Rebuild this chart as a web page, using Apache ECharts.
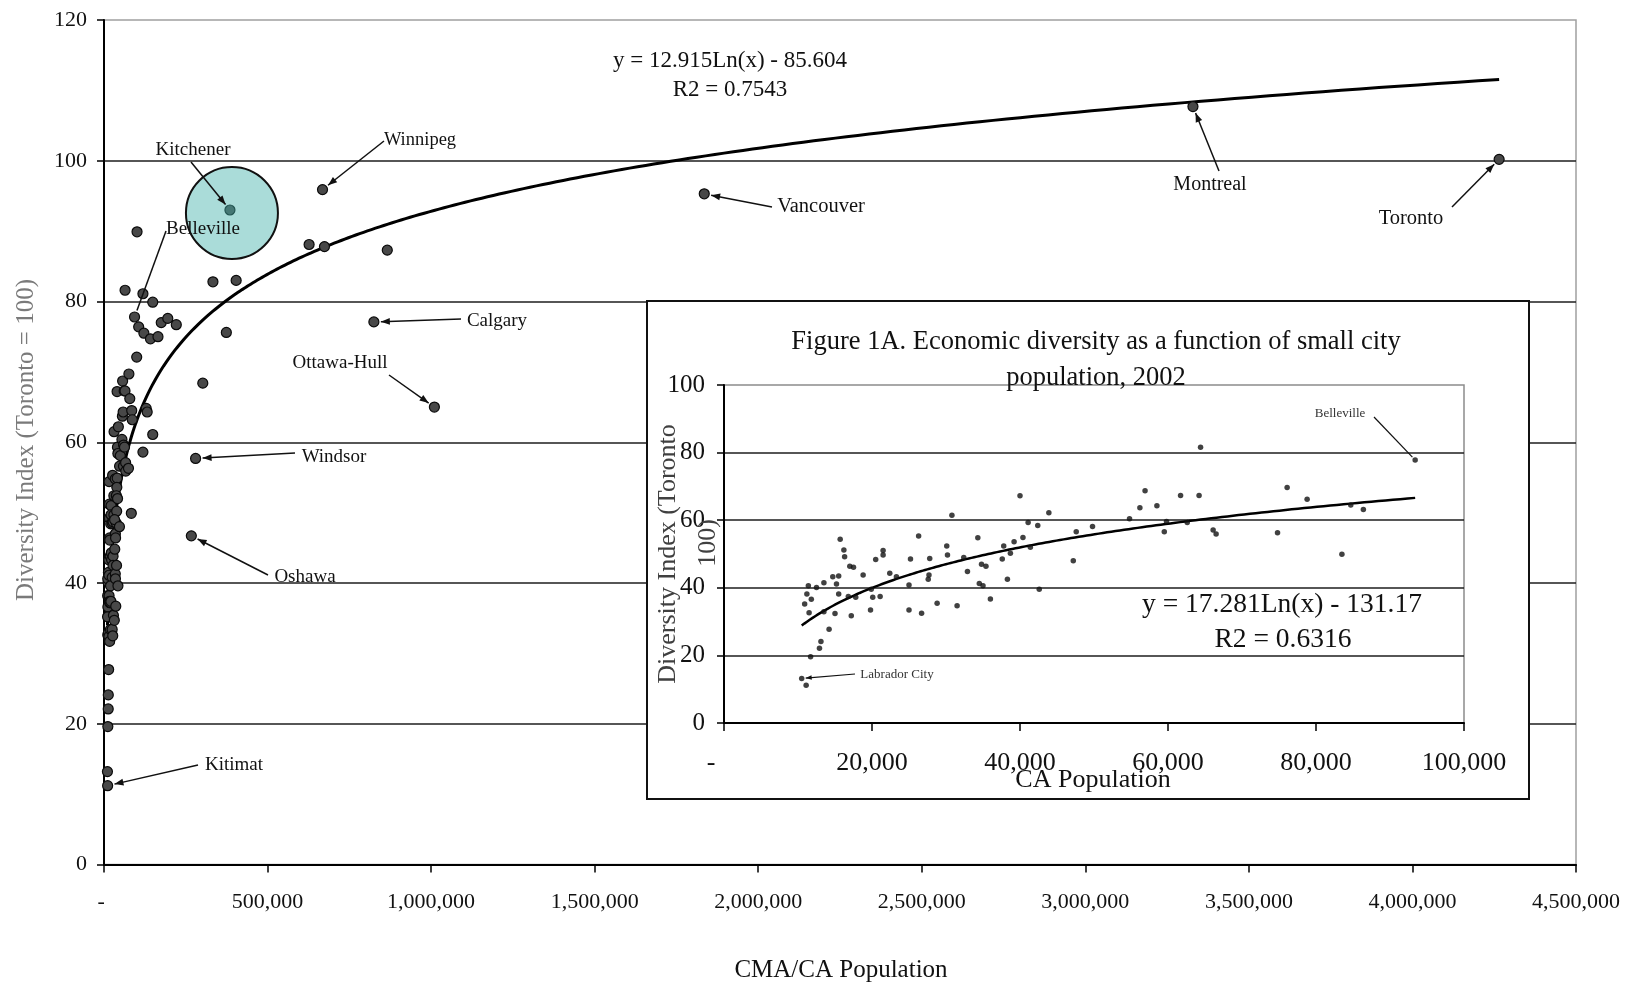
<!DOCTYPE html>
<html><head><meta charset="utf-8">
<script src="https://cdn.jsdelivr.net/npm/echarts@6/dist/echarts.min.js"></script>
<style>html,body{margin:0;padding:0;background:#fff}#c{width:1639px;height:984px}</style>
</head><body><div id="c"></div>
<script>
// ---------- DATA ----------
// Small cities (CA, under 100,000) — shown in the inset and in the main chart
const smallCityPop = [
  30800,15700,16200,16300,17000,17500,15500,14700,13500,12500,11400,15200,18800,20500,21500,21500,
  22400,23300,26300,25200,27800,27700,27600,30100,30200,25000,32900,11200,11800,10900,11500,13500,
  15000,15500,16800,17800,17200,19900,20100,21100,19800,25000,26700,28800,31500,14200,13100,12900,
  11700,10500,11100,
  40000,43900,41100,42400,34300,40400,39200,37800,41400,38700,37600,32400,34800,35400,34500,35000,
  38300,36000,42600,47200,47600,49800,54800,56200,56900,58500,59500,59800,61700,62600,64200,64400,
  76100,78800,84700,86400,66100,66500,74800,83500,93400
];
const smallCityIndex = [
  61.5,54.4,51.2,49.2,46.4,46.1,43.5,43.3,41.5,40.1,40.6,41.1,43.8,48.4,51.0,49.7,
  44.3,43.3,55.3,48.5,48.7,43.8,42.5,52.4,49.7,40.8,44.8,38.2,36.6,35.2,32.6,32.9,
  32.4,38.2,37.4,37.2,31.7,39.6,37.2,37.4,33.4,33.4,32.5,35.4,34.7,27.7,24.1,22.1,
  19.6,13.2,11.2,
  67.2,62.2,59.3,58.4,54.8,54.9,53.6,52.4,52.0,50.2,48.5,49.0,47.0,46.4,41.3,40.6,
  42.5,36.7,39.6,48.0,56.6,58.1,60.4,63.7,68.7,64.3,56.6,59.6,67.3,59.3,67.3,81.6,
  69.7,66.2,64.5,63.2,57.1,55.9,56.3,49.9,77.8
];
// Larger CAs and CMAs (100,000 and over) — main chart only
const largeCityPop = [
  100000,101000,106000,119000,122000,129000,132000,119000,142000,149000,149000,165000,175000,195000,
  221000,267000,280000,302000,333000,374000,385000,404000,627000,668000,674000,825000,866000,
  1010000,1835000,3329000,4265000
];
const largeCityIndex = [
  72.1,89.9,76.4,81.1,75.5,64.8,64.3,58.6,74.7,79.9,61.1,75.0,77.0,77.6,
  76.7,46.7,57.7,68.4,82.8,75.6,93.0,83.0,88.1,95.9,87.8,77.1,87.3,
  65.0,95.3,107.7,100.2
];
// Labelled cities
const mainLabelNames = ['Kitchener','Winnipeg','Belleville','Calgary','Ottawa-Hull','Windsor','Oshawa','Kitimat','Vancouver','Montreal','Toronto'];
const mainLabelPop   = [385000,668000,93400,825000,1010000,280000,267000,11100,1835000,3329000,4265000];
const mainLabelIndex = [93.0,95.9,77.8,77.1,65.0,57.7,46.7,11.2,95.3,107.7,100.2];
const insetLabelNames = ['Labrador City','Belleville'];
const insetLabelPop   = [10500,93400];
const insetLabelIndex = [13.2,77.8];
// Trend lines as printed on the chart
const mainFit  = {a: 12.915, b: -85.604};
const insetFit = {a: 17.281, b: -131.17};
const mainFitText  = ['y = 12.915Ln(x) - 85.604', 'R2 = 0.7543'];
const insetFitText = ['y = 17.281Ln(x) - 131.17', 'R2 = 0.6316'];
const mainTitleX = 'CMA/CA Population';
const mainTitleY = 'Diversity Index (Toronto = 100)';
const insetTitle = ['Figure 1A. Economic diversity as a function of small city', 'population, 2002'];
const insetTitleX = 'CA Population';
const insetTitleY = ['Diversity Index (Toronto', '100)'];

// ---------- BUILD ----------
const FONT = '"Liberation Serif", "Times New Roman", serif';
const zip = (a, b) => a.map((v, i) => [v, b[i]]);
const smallPts = zip(smallCityPop, smallCityIndex);
const largePts = zip(largeCityPop, largeCityIndex);
function trend(fit, x0, x1, n) {
  const pts = [];
  for (let i = 0; i <= n; i++) {
    const x = x0 * Math.pow(x1 / x0, i / n);
    pts.push([x, fit.a * Math.log(x) + fit.b]);
  }
  return pts;
}
const allPop = smallCityPop.concat(largeCityPop);
const mainTrend = trend(mainFit, Math.min(...allPop), Math.max(...allPop), 400);
const insetTrend = trend(insetFit, Math.min(...smallCityPop), Math.max(...smallCityPop), 200);
const fmt = v => v.toLocaleString('en-US');

const chart = echarts.init(document.getElementById('c'), null, {renderer: 'canvas'});
const gridLine = {show: true, showMaxLine: false, lineStyle: {color: '#1e1e1e', width: 1.5}};
chart.setOption({
  animation: false,
  backgroundColor: '#fff',
  grid: [
    {left: 104, top: 20, right: 63, bottom: 119.5, show: true, borderColor: '#a0a0a0', borderWidth: 1.5, z: 0},
    {left: 724, top: 385, right: 175, bottom: 261, show: true, borderColor: '#8c8c8c', borderWidth: 1.5, z: 11}
  ],
  xAxis: [
    {type: 'value', gridIndex: 0, min: 0, max: 4500000, interval: 500000,
     axisLine: {lineStyle: {color: '#000', width: 2}},
     axisTick: {show: true, length: 8, lineStyle: {color: '#000', width: 1.5}},
     axisLabel: {margin: 27, fontFamily: FONT, fontSize: 22, color: '#111',
       formatter: v => v === 0 ? '- ' : fmt(v)},
     splitLine: {show: false}},
    {type: 'value', gridIndex: 1, min: 0, max: 100000, interval: 20000, z: 11,
     axisLine: {lineStyle: {color: '#000', width: 2}},
     axisTick: {show: true, length: 8, lineStyle: {color: '#000', width: 1.5}},
     axisLabel: {margin: 27, fontFamily: FONT, fontSize: 26, color: '#111',
       formatter: v => v === 0 ? '-    ' : fmt(v)},
     splitLine: {show: false}}
  ],
  yAxis: [
    {type: 'value', gridIndex: 0, min: 0, max: 120, interval: 20,
     axisLine: {show: true, lineStyle: {color: '#000', width: 2}},
     axisTick: {show: true, length: 7, lineStyle: {color: '#000', width: 1.5}},
     axisLabel: {margin: 17, fontFamily: FONT, fontSize: 22, color: '#111'},
     splitLine: gridLine},
    {type: 'value', gridIndex: 1, min: 0, max: 100, interval: 20, z: 11,
     axisLine: {show: true, lineStyle: {color: '#000', width: 2}},
     axisTick: {show: true, length: 7, lineStyle: {color: '#000', width: 1.5}},
     axisLabel: {margin: 19, fontFamily: FONT, fontSize: 25, color: '#111'},
     splitLine: gridLine}
  ],
  series: [
    {type: 'scatter', xAxisIndex: 0, yAxisIndex: 0, data: smallPts.concat(largePts), symbolSize: 10, z: 2,
     itemStyle: {color: '#484848', borderColor: '#0a0a0a', borderWidth: 1.2, opacity: 1}},
    {type: 'line', xAxisIndex: 0, yAxisIndex: 0, data: mainTrend, showSymbol: false, z: 2,
     lineStyle: {color: '#000', width: 3}},
    {type: 'scatter', xAxisIndex: 1, yAxisIndex: 1, data: smallPts, symbolSize: 5.5, z: 13,
     itemStyle: {color: '#111'}},
    {type: 'line', xAxisIndex: 1, yAxisIndex: 1, data: insetTrend, showSymbol: false, z: 13,
     lineStyle: {color: '#000', width: 2.5}}
  ]
});

// ---------- ANNOTATIONS ----------
// label centre, label size and line start in pixels; target comes from the data through the axes
const mainNotePos = [
  {label: [193, 150], size: 19, from: [191, 162], head: true},
  {label: [420, 140], size: 18.5, from: [384, 141], head: true},
  {label: [203, 229], size: 19, from: [166, 231], head: false},
  {label: [497, 321], size: 19, from: [461, 319], head: true},
  {label: [340, 363], size: 19, from: [389, 375], head: true},
  {label: [334, 457], size: 19, from: [295, 453], head: true},
  {label: [305, 577], size: 19, from: [268, 575], head: true},
  {label: [234, 765], size: 19, from: [198, 765], head: true},
  {label: [821, 207], size: 20.5, from: [772, 207], head: true},
  {label: [1210, 185], size: 20, from: [1219, 171], head: true},
  {label: [1411, 219], size: 20.5, from: [1452, 207], head: true}
];
const insetNotePos = [
  {label: [897, 675], size: 13, from: [855, 674], head: true},
  {label: [1340, 414], size: 13, from: [1374, 417], head: false}
];

const els = [];
function text(str, x, y, size, opts) {
  opts = opts || {};
  els.push({type: 'text', x: x, y: y, rotation: opts.rot || 0, z: opts.z || 20, silent: true,
    style: {text: str, fontFamily: FONT, fontSize: size, fill: opts.color || '#111',
      align: 'center', verticalAlign: 'middle', textAlign: 'center', textVerticalAlign: 'middle'}});
}
function arrow(from, pt, head, gap, z, w, hl) {
  const dx = from[0] - pt[0], dy = from[1] - pt[1];
  const len = Math.sqrt(dx * dx + dy * dy);
  const ux = dx / len, uy = dy / len;
  const end = [pt[0] + ux * gap, pt[1] + uy * gap];
  els.push({type: 'line', z: z, silent: true,
    shape: {x1: from[0], y1: from[1], x2: end[0], y2: end[1]},
    style: {stroke: '#111', lineWidth: w}});
  if (head) {
    const bx = end[0] + ux * hl, by = end[1] + uy * hl, px = -uy, py = ux, hw = hl * 0.38;
    els.push({type: 'polygon', z: z, silent: true,
      shape: {points: [end, [bx + px * hw, by + py * hw], [bx - px * hw, by - py * hw]]},
      style: {fill: '#111'}});
  }
}

// highlight circle around Kitchener
const kp = chart.convertToPixel({gridIndex: 0}, [mainLabelPop[0], mainLabelIndex[0]]);
els.push({type: 'circle', z: 3, silent: true, shape: {cx: kp[0] + 2, cy: kp[1] + 3, r: 46},
  style: {fill: 'rgba(66,177,170,0.45)', stroke: '#111', lineWidth: 2}});

mainLabelNames.forEach((n, i) => {
  const p = chart.convertToPixel({gridIndex: 0}, [mainLabelPop[i], mainLabelIndex[i]]);
  const pos = mainNotePos[i];
  arrow(pos.from, p, pos.head, 7, 6, 1.5, 9);
  text(n, pos.label[0], pos.label[1], pos.size, {z: 7});
});

// inset box
els.push({type: 'rect', z: 10, silent: true, shape: {x: 647, y: 301, width: 882, height: 498},
  style: {fill: '#fff', stroke: '#111', lineWidth: 2}});
insetLabelNames.forEach((n, i) => {
  const p = chart.convertToPixel({gridIndex: 1}, [insetLabelPop[i], insetLabelIndex[i]]);
  const pos = insetNotePos[i];
  arrow(pos.from, p, pos.head, 4, 14, 1.2, 6);
  text(n, pos.label[0], pos.label[1], pos.size, {z: 14, color: '#333'});
});

// texts
text(mainFitText[0], 730, 61, 23, {z: 7});
text(mainFitText[1], 730, 90, 23, {z: 7});
text(mainTitleX, 841, 970, 25, {z: 7});
text(mainTitleY, 26, 440, 25, {z: 7, rot: Math.PI / 2, color: '#7a7a7a'});
text(insetTitle[0], 1096, 342, 26.5, {z: 14});
text(insetTitle[1], 1096, 378, 26.5, {z: 14});
text(insetTitleX, 1093, 780, 26, {z: 14});
text(insetTitleY[0], 668, 554, 26, {z: 14, rot: Math.PI / 2, color: '#404040'});
text(insetTitleY[1], 708, 543, 26, {z: 14, rot: Math.PI / 2, color: '#404040'});
text(insetFitText[0], 1282, 605, 27.5, {z: 14});
text(insetFitText[1], 1283, 640, 27.5, {z: 14});

chart.setOption({graphic: {elements: els}});
</script></body></html>
